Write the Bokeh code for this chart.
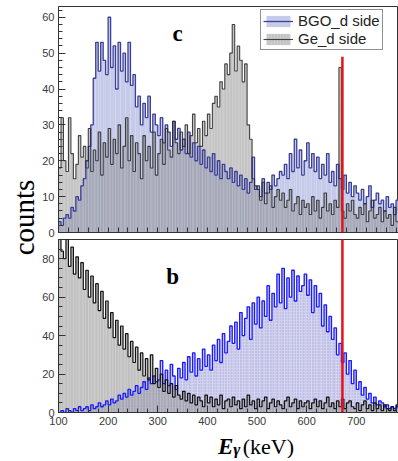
from bokeh.plotting import figure
from bokeh.layouts import row, column
from bokeh.models import (Label, Legend, LegendItem, SingleIntervalTicker,
                          FixedTicker, Range1d, ColumnDataSource)
from bokeh.embed import file_html
from bokeh.resources import INLINE
import math

# ---------------- data (5 keV bins starting at 100 keV) ----------------
bin_start_kev = 100
bin_width_kev = 5

bgo_c = [3, 2, 4, 5, 4, 7, 6, 10, 9, 13,
         15, 20, 24, 30, 43, 53, 45, 53, 48, 44,
         60, 46, 52, 40, 53, 45, 50, 42, 53, 41,
         44, 35, 38, 30, 36, 32, 38, 28, 33, 30,
         27, 32, 25, 30, 28, 24, 31, 26, 29, 23,
         26, 22, 28, 21, 25, 20, 24, 19, 23, 18,
         21, 17, 22, 16, 20, 15, 19, 17, 15, 18,
         14, 17, 13, 16, 12, 15, 11, 14, 21, 12,
         13, 10, 15, 11, 14, 12, 16, 13, 15, 17,
         16, 19, 15, 22, 17, 26, 18, 23, 16, 20,
         25, 18, 22, 17, 21, 15, 19, 16, 22, 14,
         17, 13, 19, 15, 12, 16, 11, 14, 10, 13,
         11, 9, 12, 8, 10, 13, 7, 9, 11, 8,
         9, 6, 10, 7, 8, 5, 9, 6]

ge_c = [18, 32, 20, 17, 32, 22, 15, 19, 27, 21,
        24, 18, 29, 17, 23, 20, 28, 16, 25, 21,
        29, 19, 26, 22, 30, 18, 24, 32, 20, 27,
        17, 25, 22, 15, 27, 20, 24, 18, 28, 16,
        22, 26, 19, 29, 23, 21, 31, 25, 22, 28,
        24, 30, 22, 27, 33, 25, 29, 24, 31, 27,
        33, 29, 36, 38, 35, 42, 40, 47, 44, 50,
        58, 45, 52, 48, 42, 47, 30, 26, 15, 13,
        12, 9, 14, 8, 11, 13, 7, 10, 12, 9,
        11, 7, 9, 12, 6, 8, 10, 5, 9, 7,
        8, 5, 10, 6, 9, 4, 7, 11, 6, 8,
        5, 9, 7, 46, 6, 4, 8, 6, 9, 5,
        4, 7, 5, 8, 3, 6, 9, 4, 5, 7,
        3, 6, 4, 5, 2, 7, 3, 4]

ge_b = [90, 84, 80, 90, 76, 86, 72, 81, 70, 78,
        64, 74, 60, 71, 57, 67, 53, 63, 49, 58,
        44, 52, 39, 48, 35, 45, 33, 41, 29, 37,
        26, 34, 22, 31, 19, 28, 17, 30, 15, 23,
        13, 20, 11, 17, 10, 15, 8, 14, 9, 7,
        11, 6, 10, 5, 9, 4, 8, 6, 3, 9,
        5, 8, 3, 7, 4, 9, 2, 6, 7, 3,
        8, 4, 6, 2, 7, 3, 9, 4, 6, 2,
        7, 3, 6, 8, 2, 5, 7, 3, 6, 4,
        2, 6, 8, 3, 5, 7, 2, 6, 3, 5,
        6, 2, 5, 7, 3, 6, 2, 5, 8, 3,
        5, 2, 6, 3, 7, 2, 5, 6, 3, 2,
        5, 1, 4, 6, 2, 4, 1, 5, 2, 4,
        1, 4, 2, 1, 3, 1, 4, 2]

bgo_b = [0, 1, 0, 2, 1, 0, 2, 1, 3, 1,
         2, 3, 1, 4, 2, 3, 5, 3, 4, 6,
         4, 7, 5, 6, 9, 7, 10, 8, 12, 9,
         11, 14, 10, 13, 16, 12, 18, 15, 19, 16,
         17, 27, 15, 22, 14, 25, 19, 12, 23, 18,
         26, 17, 29, 21, 31, 19, 28, 22, 33, 24,
         30, 22, 35, 27, 38, 26, 41, 31, 37, 45,
         36, 47, 33, 52, 40, 49, 55, 38, 57, 46,
         60, 44, 58, 50, 66, 48, 62, 55, 72, 57,
         75, 54, 70, 60, 74, 58, 71, 63, 66, 72,
         61, 69, 52, 66, 55, 62, 45, 56, 42, 50,
         38, 44, 30, 36, 26, 31, 20, 27, 15, 22,
         12, 16, 9, 13, 7, 10, 5, 8, 4, 6,
         5, 3, 4, 2, 3, 2, 3, 2]

cut_energy_kev = 672

n_bins = len(bgo_c)
lefts = [bin_start_kev + bin_width_kev * i for i in range(n_bins)]
rights = [l + bin_width_kev for l in lefts]
step_x = lefts + [rights[-1]]

X_MIN, X_MAX = 100, 785
FRAME_COL = "#333333"
TICK_FONT = "Liberation Sans"
SERIF = "Liberation Serif"


def style_axes(p, y_interval, y_minor):
    p.yaxis.ticker = SingleIntervalTicker(interval=y_interval, num_minor_ticks=y_minor)
    for ax in (p.xaxis[0], p.yaxis[0]):
        ax.axis_line_color = FRAME_COL
        ax.major_tick_line_color = FRAME_COL
        ax.minor_tick_line_color = FRAME_COL
        ax.major_tick_out = 0
        ax.minor_tick_out = 0
        ax.major_tick_in = 7
        ax.minor_tick_in = 4
        ax.major_label_text_font = TICK_FONT
        ax.major_label_text_font_size = "11px"
        ax.major_label_text_color = "#3a3a3a"
        ax.major_label_standoff = 4
    p.xgrid.visible = False
    p.ygrid.visible = False
    p.outline_line_color = FRAME_COL
    p.outline_line_width = 1


TOP_H = 239
BOT_H = 189
XLAB_H = 30
TOTAL_H = TOP_H + BOT_H + XLAB_H

# ---------------- y label figure ----------------
lab = figure(width=38, height=TOTAL_H, x_axis_location=None, y_axis_location=None,
             toolbar_location=None, output_backend="svg", min_border=0,
             x_range=Range1d(0, 38), y_range=Range1d(0, TOTAL_H))
lab.outline_line_color = None
lab.xgrid.visible = False
lab.ygrid.visible = False
lab.add_layout(Label(x=23, y=TOTAL_H - 217, text="counts", angle=math.pi / 2,
                     text_align="center", text_baseline="middle", text_font=SERIF,
                     text_font_size="29px", text_color="#000000"))

# ---------------- top panel (c) ----------------
src_c = ColumnDataSource(dict(left=lefts, right=rights, bgo=bgo_c, ge=ge_c))
top = figure(width=360, height=TOP_H, toolbar_location=None, output_backend="svg",
             x_range=Range1d(X_MIN, X_MAX), y_range=Range1d(0, 63),
             min_border_left=20, min_border_right=0, min_border_top=6,
             min_border_bottom=7)
style_axes(top, 10, 5)
top.xaxis.ticker = FixedTicker(ticks=[], minor_ticks=list(range(100, 800, 20)))
top.xaxis.minor_tick_in = 5

q_bgo_c = top.quad(left="left", right="right", bottom=0, top="bgo", source=src_c,
                   fill_color="#c5cae9", fill_alpha=1.0, line_color=None)
q_ge_c = top.quad(left="left", right="right", bottom=0, top="ge", source=src_c,
                  fill_color="#7d7d7d", fill_alpha=0.45, line_color=None,
                  hatch_pattern="vertical_line", hatch_scale=3, hatch_weight=0.6,
                  hatch_color="#ffffff", hatch_alpha=0.25)
s_bgo_c = top.step(x=step_x, y=bgo_c + [bgo_c[-1]], mode="after",
                   line_color="#3b3f99", line_width=1.3)
s_ge_c = top.step(x=step_x, y=ge_c + [ge_c[-1]], mode="after",
                  line_color="#262626", line_width=1.1, line_alpha=0.85)
top.segment(x0=[cut_energy_kev], y0=[49], x1=[cut_energy_kev], y1=[-5],
            line_color="#e3141b", line_width=2.5)
top.add_layout(Label(x=340, y=55.5, text="c", text_align="center",
                     text_baseline="middle", text_font=SERIF, text_color="#000000",
                     text_font_style="bold", text_font_size="23px"))

legend = Legend(items=[LegendItem(label="BGO_d side", renderers=[q_bgo_c, s_bgo_c]),
                       LegendItem(label="Ge_d side", renderers=[q_ge_c, s_ge_c])],
                location=(202, 182), margin=0, padding=2, spacing=1,
                glyph_width=30, glyph_height=14, label_standoff=5,
                label_text_font=TICK_FONT,
                label_text_font_size="15px", label_text_color="#222222",
                border_line_color="#222222", border_line_width=1,
                background_fill_color="#ffffff", background_fill_alpha=1.0)
top.add_layout(legend)

# ---------------- bottom panel (b) ----------------
src_b = ColumnDataSource(dict(left=lefts, right=rights, bgo=bgo_b, ge=ge_b))
bot = figure(width=360, height=BOT_H, toolbar_location=None, output_backend="svg",
             x_range=Range1d(X_MIN, X_MAX), y_range=Range1d(0, 90),
             min_border_left=20, min_border_right=0, min_border_top=0,
             min_border_bottom=16)
style_axes(bot, 20, 4)
bot.xaxis.ticker = SingleIntervalTicker(interval=100, num_minor_ticks=5)

bot.quad(left="left", right="right", bottom=0, top="bgo", source=src_b,
         fill_color="#cdcdee", fill_alpha=1.0, line_color=None,
         hatch_pattern="dot", hatch_scale=3, hatch_weight=1,
         hatch_color="#8f8fc8", hatch_alpha=0.6)
bot.quad(left="left", right="right", bottom=0, top="ge", source=src_b,
         fill_color="#8c8c8c", fill_alpha=0.55, line_color=None,
         hatch_pattern="vertical_line", hatch_scale=3, hatch_weight=0.6,
         hatch_color="#ffffff", hatch_alpha=0.3)
bot.step(x=step_x, y=bgo_b + [bgo_b[-1]], mode="after",
         line_color="#1a1aff", line_width=1.3)
bot.step(x=step_x, y=ge_b + [ge_b[-1]], mode="after",
         line_color="#111111", line_width=1.2)
bot.segment(x0=[cut_energy_kev], y0=[100], x1=[cut_energy_kev], y1=[-10],
            line_color="#e3141b", line_width=2.5)
bot.add_layout(Label(x=330, y=71, text="b", text_align="center",
                     text_baseline="middle", text_font=SERIF, text_color="#000000",
                     text_font_style="bold", text_font_size="23px"))

# ---------------- x-axis title figure: E_gamma (keV) ----------------
xlab = figure(width=360, height=XLAB_H, x_axis_location=None, y_axis_location=None,
              toolbar_location=None, output_backend="svg", min_border=0,
              x_range=Range1d(0, 360), y_range=Range1d(0, XLAB_H))
xlab.outline_line_color = None
xlab.xgrid.visible = False
xlab.ygrid.visible = False
xlab.add_layout(Label(x=169, y=12, text="E", text_font=SERIF,
                      text_font_style="bold italic", text_font_size="23px",
                      text_baseline="alphabetic", text_color="#000000"))
xlab.add_layout(Label(x=185, y=9, text="γ", text_font=SERIF,
                      text_font_style="bold italic", text_font_size="17px",
                      text_baseline="alphabetic", text_color="#000000"))
xlab.add_layout(Label(x=195, y=12, text="(keV)", text_font=SERIF,
                      text_font_size="22px", text_baseline="alphabetic",
                      text_color="#000000"))

layout = row(lab, column(top, bot, xlab))
open("out.html", "w").write(file_html(layout, INLINE))
